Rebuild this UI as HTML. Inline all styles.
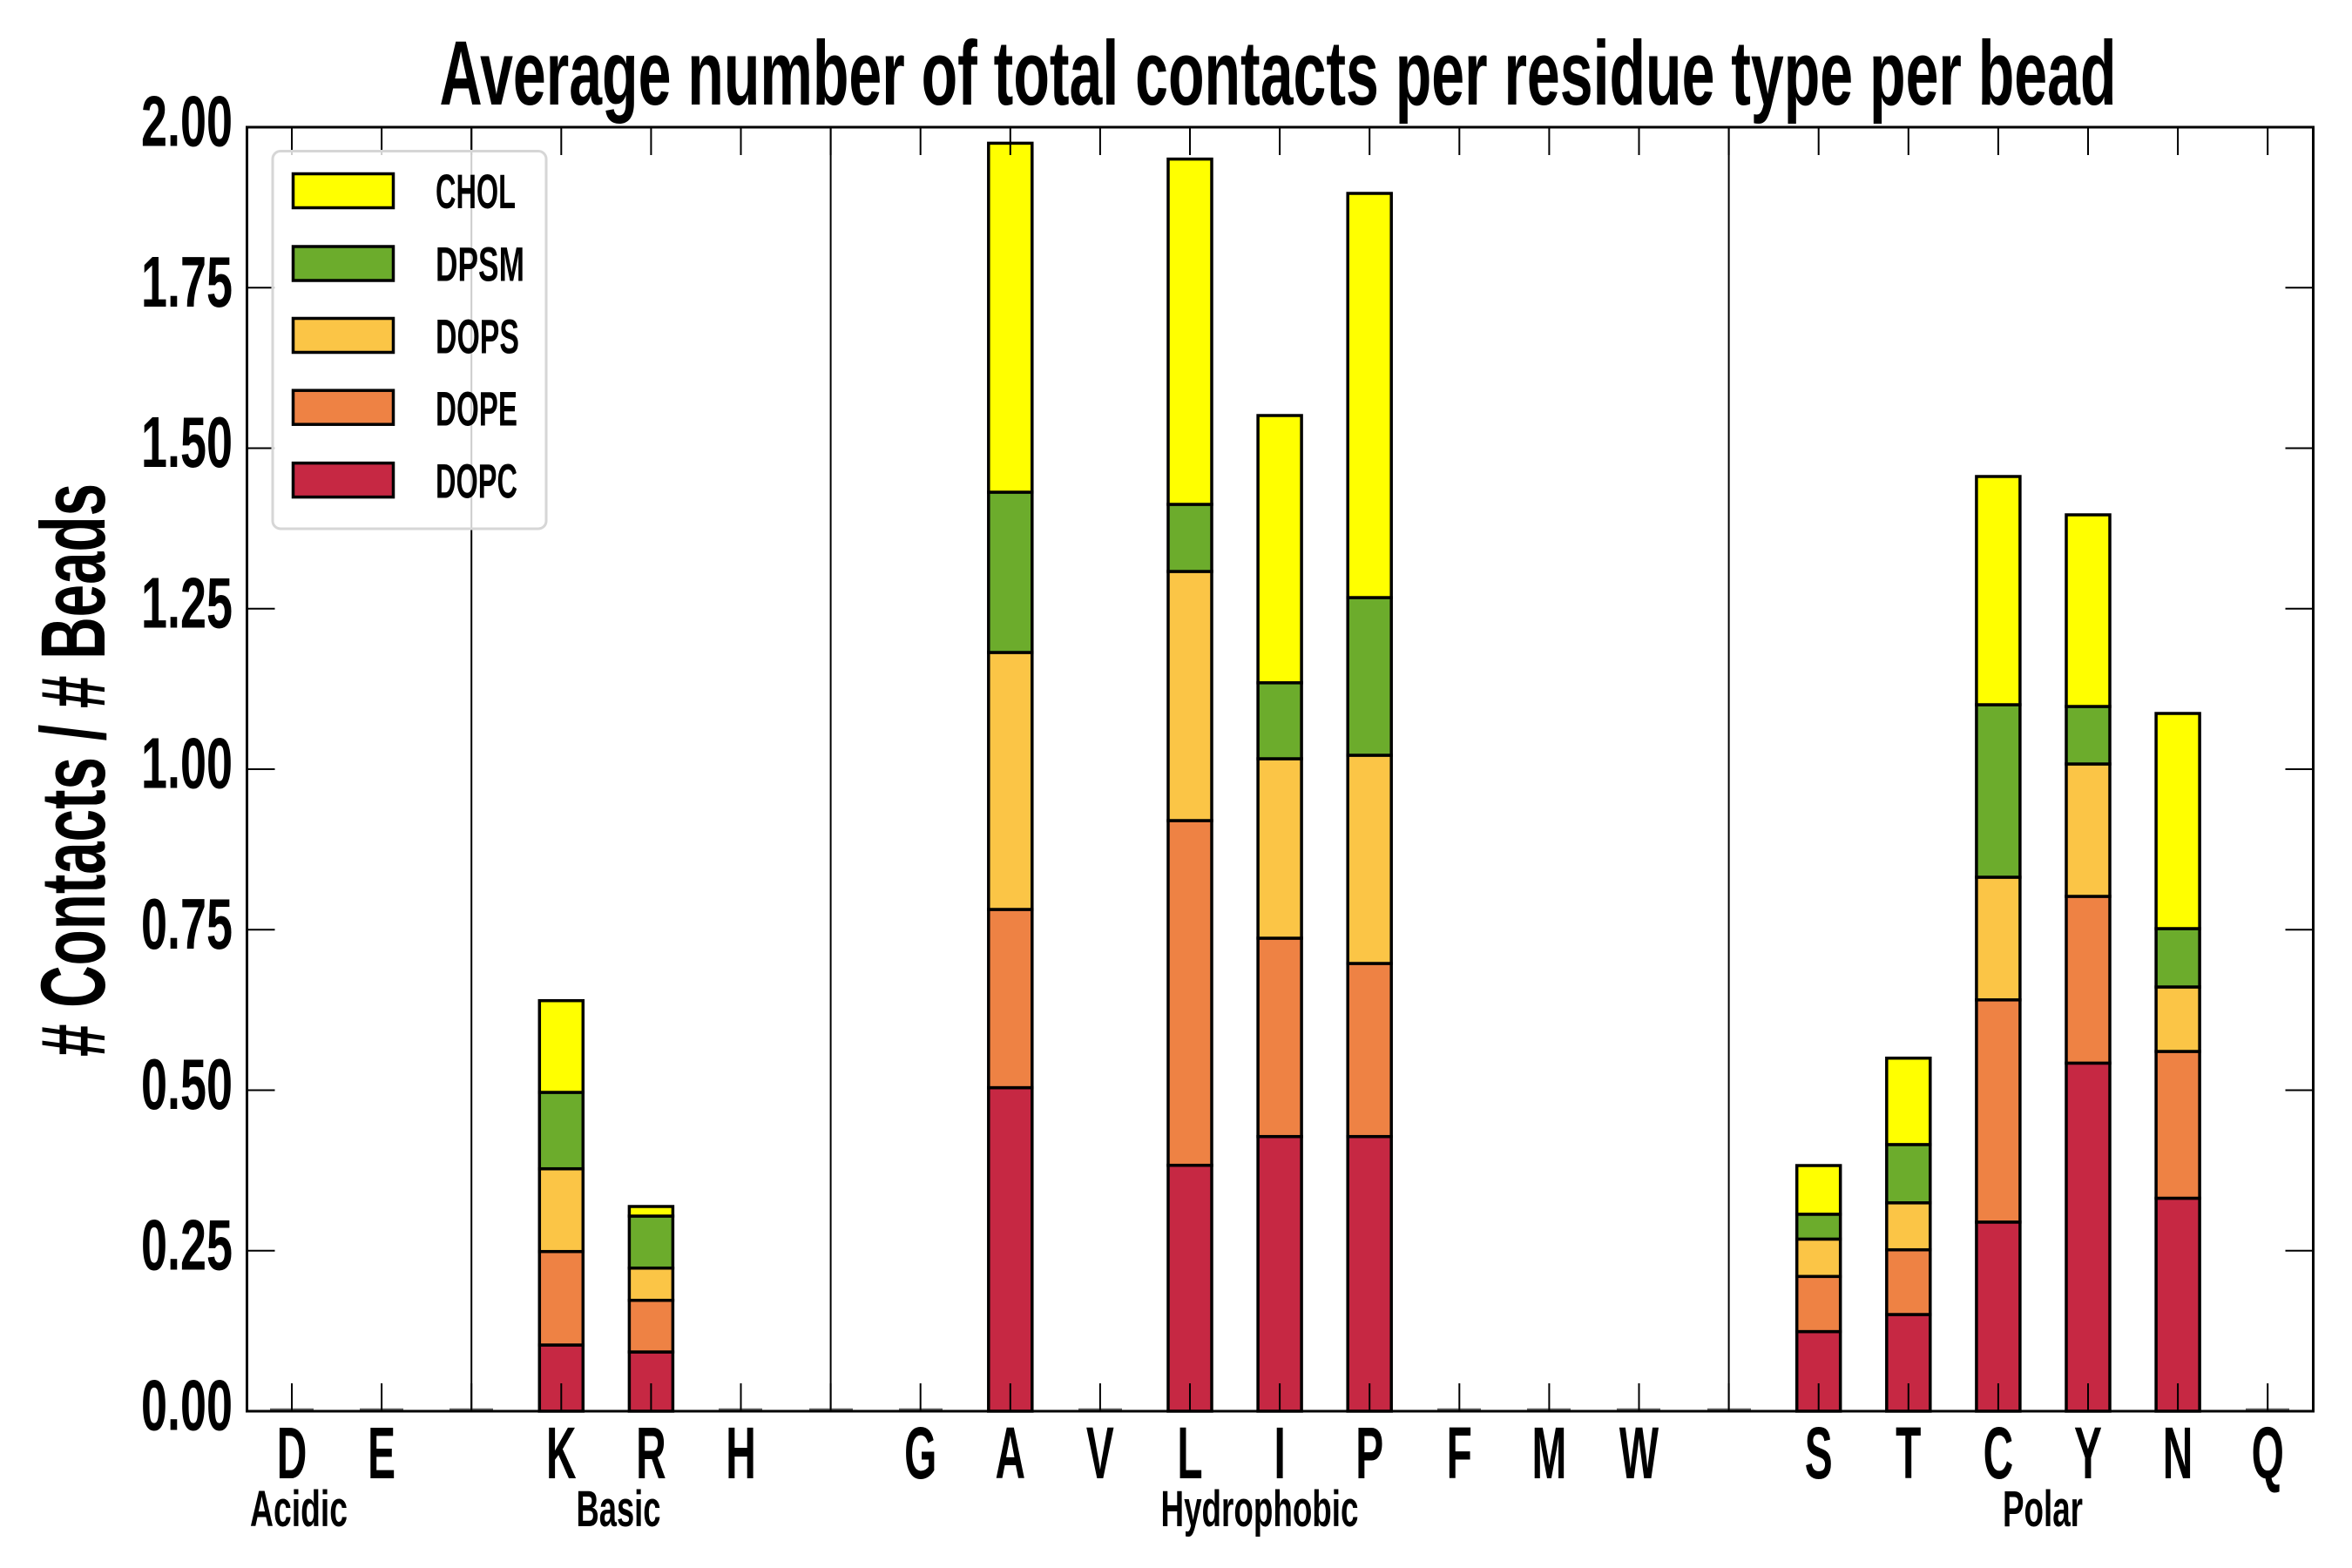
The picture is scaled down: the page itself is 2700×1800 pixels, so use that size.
<!DOCTYPE html>
<html><head><meta charset="utf-8"><style>
html,body{margin:0;padding:0;background:#fff;}
svg{display:block;}
text{font-family:"Liberation Sans",sans-serif;font-weight:bold;fill:#000;}
</style></head><body>
<svg width="2700" height="1800" viewBox="0 0 2700 1800" xmlns="http://www.w3.org/2000/svg">
<rect x="0" y="0" width="2700" height="1800" fill="#fff"/>
<!-- Title -->
<text x="1467" y="120" font-size="105" text-anchor="middle" textLength="1925" lengthAdjust="spacingAndGlyphs">Average number of total contacts per residue type per bead</text>
<!-- Y label -->
<text transform="translate(120,884) rotate(-90)" x="0" y="0" font-size="105" text-anchor="middle" textLength="658" lengthAdjust="spacingAndGlyphs"># Contacts / # Beads</text>

<!-- separators -->
<g stroke="#000" stroke-width="2">
<line x1="541.2" y1="146" x2="541.2" y2="1620"/>
<line x1="953.6" y1="146" x2="953.6" y2="1620"/>
<line x1="1984.6" y1="146" x2="1984.6" y2="1620"/>
</g>

<!-- zero-height bars -->
<g stroke="#666" stroke-width="2.5">
<line x1="310" y1="1618" x2="360" y2="1618"/>
<line x1="413" y1="1618" x2="463" y2="1618"/>
<line x1="516" y1="1618" x2="566" y2="1618"/>
<line x1="825" y1="1618" x2="875" y2="1618"/>
<line x1="929" y1="1618" x2="979" y2="1618"/>
<line x1="1032" y1="1618" x2="1082" y2="1618"/>
<line x1="1238" y1="1618" x2="1288" y2="1618"/>
<line x1="1650" y1="1618" x2="1700" y2="1618"/>
<line x1="1753" y1="1618" x2="1803" y2="1618"/>
<line x1="1856" y1="1618" x2="1906" y2="1618"/>
<line x1="1960" y1="1618" x2="2010" y2="1618"/>
<line x1="2578" y1="1618" x2="2628" y2="1618"/>
</g>

<!-- bars -->
<g stroke="#000" stroke-width="3.5">
<!-- K 644.3 -->
<rect x="619.3" y="1544" width="50" height="76" fill="#c62843"/>
<rect x="619.3" y="1436.7" width="50" height="107.3" fill="#ee8244"/>
<rect x="619.3" y="1341.7" width="50" height="95" fill="#fbc546"/>
<rect x="619.3" y="1254" width="50" height="87.7" fill="#6cac2c"/>
<rect x="619.3" y="1148.7" width="50" height="105.3" fill="#ffff00"/>
<!-- R 747.4 -->
<rect x="722.4" y="1552" width="50" height="68" fill="#c62843"/>
<rect x="722.4" y="1492.7" width="50" height="59.3" fill="#ee8244"/>
<rect x="722.4" y="1455.7" width="50" height="37" fill="#fbc546"/>
<rect x="722.4" y="1396" width="50" height="59.7" fill="#6cac2c"/>
<rect x="722.4" y="1385" width="50" height="11" fill="#ffff00"/>
<!-- A 1159.8 -->
<rect x="1134.8" y="1248.6" width="50" height="371.4" fill="#c62843"/>
<rect x="1134.8" y="1044" width="50" height="204.6" fill="#ee8244"/>
<rect x="1134.8" y="749" width="50" height="295" fill="#fbc546"/>
<rect x="1134.8" y="565" width="50" height="184" fill="#6cac2c"/>
<rect x="1134.8" y="164.4" width="50" height="400.6" fill="#ffff00"/>
<!-- L 1366 -->
<rect x="1341" y="1337.7" width="50" height="282.3" fill="#c62843"/>
<rect x="1341" y="942" width="50" height="395.7" fill="#ee8244"/>
<rect x="1341" y="656" width="50" height="286" fill="#fbc546"/>
<rect x="1341" y="579" width="50" height="77" fill="#6cac2c"/>
<rect x="1341" y="182.6" width="50" height="396.4" fill="#ffff00"/>
<!-- I 1469.1 -->
<rect x="1444.1" y="1304.7" width="50" height="315.3" fill="#c62843"/>
<rect x="1444.1" y="1077" width="50" height="227.7" fill="#ee8244"/>
<rect x="1444.1" y="871" width="50" height="206" fill="#fbc546"/>
<rect x="1444.1" y="783.8" width="50" height="87.2" fill="#6cac2c"/>
<rect x="1444.1" y="477" width="50" height="306.8" fill="#ffff00"/>
<!-- P 1572.2 -->
<rect x="1547.2" y="1304.7" width="50" height="315.3" fill="#c62843"/>
<rect x="1547.2" y="1106" width="50" height="198.7" fill="#ee8244"/>
<rect x="1547.2" y="867" width="50" height="239" fill="#fbc546"/>
<rect x="1547.2" y="686" width="50" height="181" fill="#6cac2c"/>
<rect x="1547.2" y="222" width="50" height="464" fill="#ffff00"/>
<!-- S 2087.7 -->
<rect x="2062.7" y="1528.6" width="50" height="91.4" fill="#c62843"/>
<rect x="2062.7" y="1465.3" width="50" height="63.3" fill="#ee8244"/>
<rect x="2062.7" y="1422.4" width="50" height="42.9" fill="#fbc546"/>
<rect x="2062.7" y="1393.9" width="50" height="28.5" fill="#6cac2c"/>
<rect x="2062.7" y="1338" width="50" height="55.9" fill="#ffff00"/>
<!-- T 2190.8 -->
<rect x="2165.8" y="1509" width="50" height="111" fill="#c62843"/>
<rect x="2165.8" y="1434.7" width="50" height="74.3" fill="#ee8244"/>
<rect x="2165.8" y="1380.8" width="50" height="53.9" fill="#fbc546"/>
<rect x="2165.8" y="1313.9" width="50" height="66.9" fill="#6cac2c"/>
<rect x="2165.8" y="1214.7" width="50" height="99.2" fill="#ffff00"/>
<!-- C 2293.9 -->
<rect x="2268.9" y="1402.9" width="50" height="217.1" fill="#c62843"/>
<rect x="2268.9" y="1147.8" width="50" height="255.1" fill="#ee8244"/>
<rect x="2268.9" y="1007" width="50" height="140.8" fill="#fbc546"/>
<rect x="2268.9" y="809" width="50" height="198" fill="#6cac2c"/>
<rect x="2268.9" y="547" width="50" height="262" fill="#ffff00"/>
<!-- Y 2397 -->
<rect x="2372" y="1220.4" width="50" height="399.6" fill="#c62843"/>
<rect x="2372" y="1029" width="50" height="191.4" fill="#ee8244"/>
<rect x="2372" y="877" width="50" height="152" fill="#fbc546"/>
<rect x="2372" y="811" width="50" height="66" fill="#6cac2c"/>
<rect x="2372" y="591" width="50" height="220" fill="#ffff00"/>
<!-- N 2500.1 -->
<rect x="2475.1" y="1375.5" width="50" height="244.5" fill="#c62843"/>
<rect x="2475.1" y="1207" width="50" height="168.5" fill="#ee8244"/>
<rect x="2475.1" y="1133" width="50" height="74" fill="#fbc546"/>
<rect x="2475.1" y="1066" width="50" height="67" fill="#6cac2c"/>
<rect x="2475.1" y="819" width="50" height="247" fill="#ffff00"/>
</g>

<!-- x ticks (bottom & top) -->
<g stroke="#000" stroke-width="2">
<path d="M335,1620V1588M438.1,1620V1588M541.2,1620V1588M644.3,1620V1588M747.4,1620V1588M850.5,1620V1588M953.6,1620V1588M1056.7,1620V1588M1159.8,1620V1588M1262.9,1620V1588M1366,1620V1588M1469.1,1620V1588M1572.2,1620V1588M1675.3,1620V1588M1778.4,1620V1588M1881.5,1620V1588M1984.6,1620V1588M2087.7,1620V1588M2190.8,1620V1588M2293.9,1620V1588M2397,1620V1588M2500.1,1620V1588M2603.2,1620V1588"/>
<path d="M335,146V178M438.1,146V178M541.2,146V178M644.3,146V178M747.4,146V178M850.5,146V178M953.6,146V178M1056.7,146V178M1159.8,146V178M1262.9,146V178M1366,146V178M1469.1,146V178M1572.2,146V178M1675.3,146V178M1778.4,146V178M1881.5,146V178M1984.6,146V178M2087.7,146V178M2190.8,146V178M2293.9,146V178M2397,146V178M2500.1,146V178M2603.2,146V178"/>
<!-- y ticks -->
<path d="M283.5,1620H315.5M283.5,1435.75H315.5M283.5,1251.5H315.5M283.5,1067.25H315.5M283.5,883H315.5M283.5,698.75H315.5M283.5,514.5H315.5M283.5,330.25H315.5M283.5,146H315.5"/>
<path d="M2655.5,1620H2623.5M2655.5,1435.75H2623.5M2655.5,1251.5H2623.5M2655.5,1067.25H2623.5M2655.5,883H2623.5M2655.5,698.75H2623.5M2655.5,514.5H2623.5M2655.5,330.25H2623.5M2655.5,146H2623.5"/>
</g>

<!-- legend -->
<rect x="313" y="173.5" width="314" height="433.5" rx="9" ry="9" fill="#fff" fill-opacity="0.8" stroke="#d6d6d6" stroke-width="3"/>
<g stroke="#000" stroke-width="3.5">
<rect x="336.5" y="199.5" width="115" height="39" fill="#ffff00"/>
<rect x="336.5" y="283" width="115" height="39" fill="#6cac2c"/>
<rect x="336.5" y="365.5" width="115" height="39" fill="#fbc546"/>
<rect x="336.5" y="448.2" width="115" height="39" fill="#ee8244"/>
<rect x="336.5" y="531.6" width="115" height="39" fill="#c62843"/>
</g>
<g font-size="56">
<text x="500" y="239" textLength="92" lengthAdjust="spacingAndGlyphs">CHOL</text>
<text x="500" y="322.5" textLength="102" lengthAdjust="spacingAndGlyphs">DPSM</text>
<text x="500" y="405.5" textLength="96" lengthAdjust="spacingAndGlyphs">DOPS</text>
<text x="500" y="488.5" textLength="94" lengthAdjust="spacingAndGlyphs">DOPE</text>
<text x="500" y="571.5" textLength="94" lengthAdjust="spacingAndGlyphs">DOPC</text>
</g>

<!-- axes frame -->
<rect x="283.5" y="146" width="2372" height="1474" fill="none" stroke="#000" stroke-width="3"/>

<!-- y tick labels -->
<g font-size="83" text-anchor="end">
<text x="267" y="1641.5" textLength="105" lengthAdjust="spacingAndGlyphs">0.00</text>
<text x="267" y="1457.25" textLength="105" lengthAdjust="spacingAndGlyphs">0.25</text>
<text x="267" y="1273" textLength="105" lengthAdjust="spacingAndGlyphs">0.50</text>
<text x="267" y="1088.75" textLength="105" lengthAdjust="spacingAndGlyphs">0.75</text>
<text x="267" y="904.5" textLength="105" lengthAdjust="spacingAndGlyphs">1.00</text>
<text x="267" y="720.25" textLength="105" lengthAdjust="spacingAndGlyphs">1.25</text>
<text x="267" y="536" textLength="105" lengthAdjust="spacingAndGlyphs">1.50</text>
<text x="267" y="351.75" textLength="105" lengthAdjust="spacingAndGlyphs">1.75</text>
<text x="267" y="167.5" textLength="105" lengthAdjust="spacingAndGlyphs">2.00</text>
</g>

<!-- x tick labels -->
<g font-size="84" text-anchor="middle">
<text transform="translate(335,1697) scale(0.57,1)">D</text>
<text transform="translate(438.1,1697) scale(0.57,1)">E</text>
<text transform="translate(644.3,1697) scale(0.57,1)">K</text>
<text transform="translate(747.4,1697) scale(0.57,1)">R</text>
<text transform="translate(850.5,1697) scale(0.57,1)">H</text>
<text transform="translate(1056.7,1697) scale(0.57,1)">G</text>
<text transform="translate(1159.8,1697) scale(0.57,1)">A</text>
<text transform="translate(1262.9,1697) scale(0.57,1)">V</text>
<text transform="translate(1366,1697) scale(0.57,1)">L</text>
<text transform="translate(1469.1,1697) scale(0.57,1)">I</text>
<text transform="translate(1572.2,1697) scale(0.57,1)">P</text>
<text transform="translate(1675.3,1697) scale(0.57,1)">F</text>
<text transform="translate(1778.4,1697) scale(0.57,1)">M</text>
<text transform="translate(1881.5,1697) scale(0.57,1)">W</text>
<text transform="translate(2087.7,1697) scale(0.57,1)">S</text>
<text transform="translate(2190.8,1697) scale(0.57,1)">T</text>
<text transform="translate(2293.9,1697) scale(0.57,1)">C</text>
<text transform="translate(2397,1697) scale(0.57,1)">Y</text>
<text transform="translate(2500.1,1697) scale(0.57,1)">N</text>
<text transform="translate(2603.2,1697) scale(0.57,1)">Q</text>
</g>

<!-- group labels -->
<g font-size="58">
<text x="287" y="1752" textLength="112" lengthAdjust="spacingAndGlyphs">Acidic</text>
<text x="661.5" y="1752" textLength="97" lengthAdjust="spacingAndGlyphs">Basic</text>
<text x="1332.5" y="1752" textLength="227" lengthAdjust="spacingAndGlyphs">Hydrophobic</text>
<text x="2299" y="1752" textLength="92" lengthAdjust="spacingAndGlyphs">Polar</text>
</g>
</svg>
</body></html>
